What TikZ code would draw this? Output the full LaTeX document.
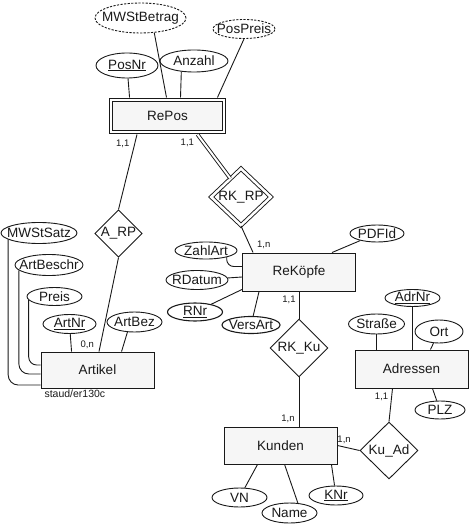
\documentclass[tikz,border=0pt]{standalone}
\usepackage{fontspec}
\setmainfont{Liberation Sans}
\usetikzlibrary{shapes.geometric, calc}

\begin{document}
\begin{tikzpicture}[x=1pt, y=1pt, line width=0.9pt, draw=black!90, text=black!90]
        \tikzstyle{entity} = [rectangle, minimum width=113pt, minimum height=37pt, draw, fill=gray!7, font=\fontsize{13.5}{15}\selectfont]
        \tikzstyle{relship} = [diamond, inner sep=0pt, draw, fill=white, font=\fontsize{13.5}{15}\selectfont]
        \tikzstyle{attr} = [ellipse, inner sep=-40pt, draw, fill=white, font=\fontsize{13.5}{15}\selectfont]
        \tikzstyle{derived} = [attr, dash pattern=on 2.2pt off 1.4pt]
        \tikzstyle{card} = [inner sep=1pt, font=\fontsize{9.5}{10}\selectfont]
        \tikzstyle{dbl} = [double, double distance=2pt]

        \useasboundingbox (0,0) rectangle (472,-526);

        % entities
        \node (repos) [entity, dbl, minimum width=113pt, minimum height=32.5pt] at (167.5,-116) {RePos};
        \node (artikel) [entity, minimum height=36pt] at (97.5,-370) {Artikel};
        \node (rekoepfe) [entity, minimum height=38pt] at (299,-272) {ReKöpfe};
        \node (adressen) [entity, minimum height=38pt] at (411.5,-369) {Adressen};
        \node (kunden) [entity] at (280.5,-445.5) {Kunden};

        % relationships
        \node (arp) [relship, minimum width=47pt, minimum height=47pt] at (118.5,-233.5) {A\_RP};
        \node (rkrp) [relship, dbl, double distance=2.5pt, minimum width=60pt, minimum height=56pt] at (241,-197) {RK\_RP};
        \node (rkku) [relship, minimum width=58pt, minimum height=58pt] at (299,-348) {RK\_Ku};
        \node (kuad) [relship, minimum width=58pt, minimum height=57pt] at (389,-450.5) {Ku\_Ad};

        % attributes
        \node (mwst) [derived, minimum width=91pt, minimum height=30pt] at (140.5,-18) {MWStBetrag};
        \node (pospreis) [derived, minimum width=62pt, minimum height=19pt] at (244,-29) {PosPreis};
        \node (posnr) [attr, minimum width=62pt, minimum height=25pt] at (127,-65.5) {\underline{PosNr}};
        \node (anzahl) [attr, minimum width=68pt, minimum height=22pt] at (194,-61) {Anzahl};

        \node (mwstsatz) [attr, minimum width=76pt, minimum height=21pt] at (39,-233) {MWStSatz};
        \node (artbeschr) [attr, minimum width=68pt, minimum height=21pt] at (49,-265) {ArtBeschr};
        \node (preis) [attr, minimum width=55pt, minimum height=18pt] at (54.5,-296.5) {Preis};
        \node (artnr) [attr, minimum width=53pt, minimum height=19pt] at (69.5,-324) {\underline{ArtNr}};
        \node (artbez) [attr, minimum width=55pt, minimum height=20pt] at (134.5,-322) {ArtBez};

        \node (zahlart) [attr, minimum width=62pt, minimum height=17pt] at (206,-250.5) {ZahlArt};
        \node (rdatum) [attr, minimum width=62pt, minimum height=19pt] at (197,-280) {RDatum};
        \node (rnr) [attr, line width=1.1pt, minimum width=55pt, minimum height=18pt] at (195,-312) {\underline{RNr}};
        \node (versart) [attr, line width=1.1pt, minimum width=58pt, minimum height=17pt] at (251,-325) {VersArt};
        \node (pdfid) [attr, minimum width=54pt, minimum height=17pt] at (377,-233.5) {PDFId};

        \node (adrnr) [attr, minimum width=55pt, minimum height=17pt] at (412.5,-298) {\underline{AdrNr}};
        \node (strasse) [attr, minimum width=56pt, minimum height=20pt] at (376.5,-324) {Straße};
        \node (ort) [attr, minimum width=48pt, minimum height=23pt] at (439,-331.5) {Ort};
        \node (plz) [attr, minimum width=50pt, minimum height=18pt] at (440,-410) {PLZ};

        \node (vn) [attr, minimum width=55pt, minimum height=19pt] at (239.5,-497.5) {VN};
        \node (name) [attr, minimum width=55pt, minimum height=20pt] at (289.5,-513) {Name};
        \node (knr) [attr, minimum width=54pt, minimum height=19pt] at (336,-495.5) {\underline{KNr}};

        \node (quelle) [anchor=north west, inner sep=0.5pt, font=\fontsize{10.5}{12}\selectfont] at ($(artikel.south west)+(3,0)$) {staud/er130c};

        % relationship lines
        \draw ($(repos.south)+(-30.5,-1.8)$) -- node[card, pos=0.12, left=4pt] {1,1} (arp.north);
        \draw [dbl] ($(repos.south)+(30,-1.8)$) -- node[card, pos=0.18, left=8pt] {1,1} (rkrp.120);
        \draw (arp.south) -- node[card, pos=0.93, left=5pt] {0,n} ($(artikel.north)+(1.5,0)$);
        \draw (rkrp.south) -- node[card, pos=0.72, right=6pt] {1,n} ($(rekoepfe.north west)+(11,0)$);
        \draw (rekoepfe.south) -- node[card, pos=0.3, left=2pt] {1,1} (rkku.north);
        \draw (rkku.south) -- node[card, pos=0.85, left=3pt] {1,n} (rkku.south |- kunden.north);
        \draw ($(adressen.south)+(-19,0)$) -- node[card, pos=0.25, left=2pt] {1,1} (kuad.north);
        \draw (kunden.east) -- node[card, pos=0.3, above=2pt] {1,n} (kuad.west);

        % attribute lines
        \draw (mwst.-47) -- ($(repos.north)+(-1,1.8)$);
        \draw (pospreis.south) -- ($(repos.north east)+(-7,1.8)$);
        \draw (posnr) -- ($(repos.north west)+(19,1.8)$);
        \draw (anzahl.-140) -- ($(repos.north)+(13,1.8)$);

        \draw [rounded corners=10pt] (mwstsatz.-168) |- ($(artikel.west)+(0,-15)$);
        \draw [rounded corners=10pt] (artbeschr.-170) |- ($(artikel.west)+(0,-4)$);
        \draw [rounded corners=8pt] (preis.-172) |- ($(artikel.west)+(0,5)$);
        \draw (artnr) -- ($(artikel.north west)+(31,0)$);
        \draw (artbez.-125) -- ($(artikel.north west)+(81,0)$);

        \draw [rounded corners=7pt] (zahlart.-18) |- ($(rekoepfe.west)+(0,5.5)$);
        \draw (rdatum) -- ($(rekoepfe.west)+(0,-5)$);
        \draw (rnr) -- ($(rekoepfe.south west)+(0,2)$);
        \draw (versart) -- ($(rekoepfe.south west)+(17,0)$);
        \draw (pdfid) -- ($(rekoepfe.north east)+(-24,0)$);

        \draw (adrnr.south) -- (adrnr.south |- adressen.north);
        \draw (strasse.south) -- (strasse.south |- adressen.north);
        \draw (ort) -- ($(adressen.north east)+(-38,0)$);
        \draw (plz) -- ($(adressen.south east)+(-36,0)$);

        \draw (vn) -- ($(kunden.south west)+(34,0)$);
        \draw (name.50) -- ($(kunden.south west)+(61,0)$);
        \draw (knr) -- ($(kunden.south east)+(-6,0)$);
    \end{tikzpicture}
\end{document}
